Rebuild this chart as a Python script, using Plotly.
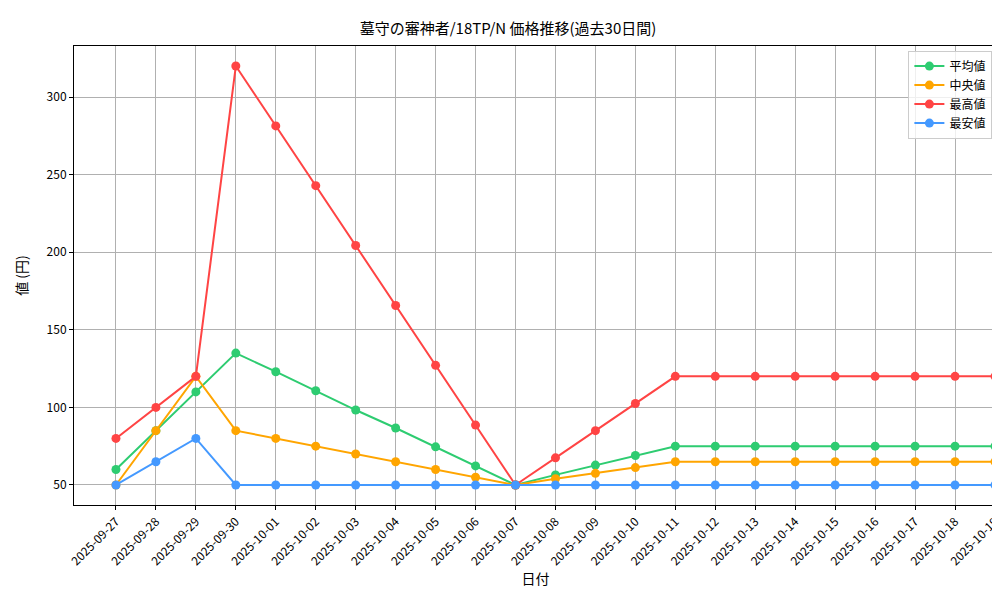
import plotly.graph_objects as go

dates = ["2025-09-27","2025-09-28","2025-09-29","2025-09-30","2025-10-01","2025-10-02","2025-10-03",
         "2025-10-04","2025-10-05","2025-10-06","2025-10-07","2025-10-08","2025-10-09","2025-10-10",
         "2025-10-11","2025-10-12","2025-10-13","2025-10-14","2025-10-15","2025-10-16","2025-10-17",
         "2025-10-18","2025-10-19"]
avg_vals = [60,85,110,135,123,110.7,98.3,86.7,74.6,62.3,50,56.5,62.8,69,75,75,75,75,75,75,75,75,75]
med_vals = [50,85,120,85,80,75,70,65,60,55,50,54,57.5,61.2,65,65,65,65,65,65,65,65,65]
max_vals = [80,100,120,320,281.4,242.9,204.3,165.7,127.1,88.6,50,67.5,85,102.5,120,120,120,120,120,120,120,120,120]
min_vals = [50,65,80,50,50,50,50,50,50,50,50,50,50,50,50,50,50,50,50,50,50,50,50]

series = [("平均値", avg_vals, "#2ecc71"), ("中央値", med_vals, "#ffa500"),
          ("最高値", max_vals, "#ff4444"), ("最安値", min_vals, "#4499ff")]

fig = go.Figure()
for name, vals, col in series:
    fig.add_trace(go.Scatter(x=dates, y=vals, name=name, mode="lines+markers",
                             line=dict(color=col, width=2), marker=dict(color=col, size=9)))

axis = dict(showline=True, linecolor="black", mirror=True, showgrid=True, gridcolor="#b0b0b0",
            ticks="outside", ticklen=4, tickcolor="black", zeroline=False, automargin=False)
fig.update_layout(
    width=1000, height=600, plot_bgcolor="white", paper_bgcolor="white",
    font=dict(family="Noto Sans CJK JP", size=12, color="black"),
    title=dict(text="墓守の審神者/18TP/N 価格推移(過去30日間)", x=0.5, xanchor="center", y=0.975, font=dict(size=15)),
    margin=dict(l=66, r=11, t=38, b=103),
    xaxis=dict(axis, title=dict(text="日付", standoff=6), tickangle=-45, range=[-1.05, 22.05],
               autorange=False, type="category"),
    yaxis=dict(axis, title=dict(text="値 (円)"), range=[37.1, 332.9], autorange=False,
               tickvals=[50,100,150,200,250,300]),
    legend=dict(x=0.995, y=0.99, xanchor="right", yanchor="top", bordercolor="#cccccc", borderwidth=1,
                bgcolor="rgba(255,255,255,0.8)"),
)
fig.write_html("out.html")
